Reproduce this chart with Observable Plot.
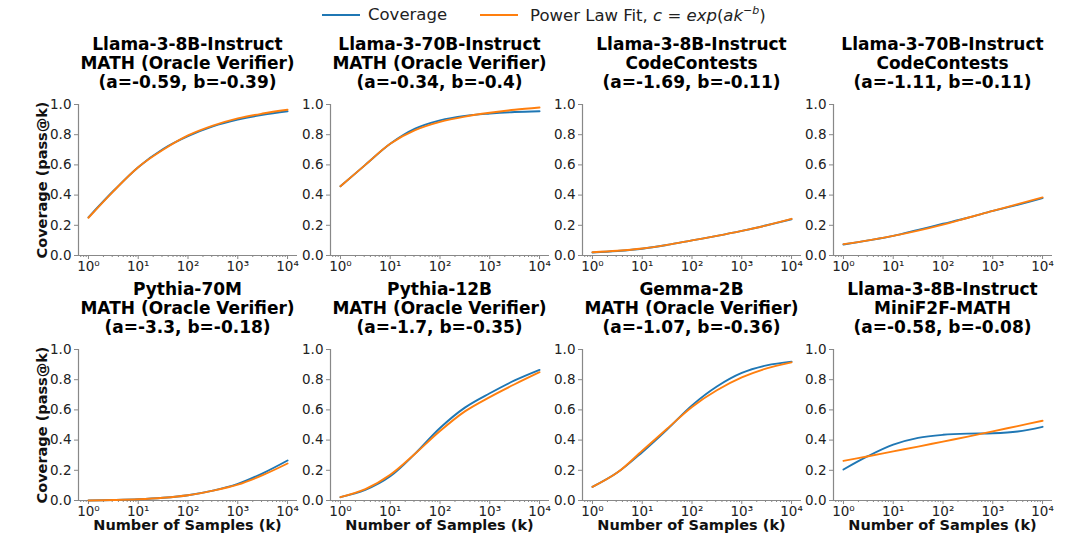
<!DOCTYPE html>
<html><head><meta charset="utf-8">
<script src="https://cdn.jsdelivr.net/npm/d3@7"></script>
<script src="https://cdn.jsdelivr.net/npm/@observablehq/plot@0.6"></script>
<style>
body{margin:0;background:#fff;font-family:"DejaVu Sans",sans-serif;}
#fig{position:relative;width:1080px;height:557px;overflow:hidden;}
.abs{position:absolute;white-space:nowrap;}
.title{font-weight:bold;font-size:17px;line-height:19px;text-align:center;color:#000;}
.ylab{font-weight:bold;font-size:14.5px;color:#111;transform:translate(-50%,-50%) rotate(-90deg);}
.xlab{font-weight:bold;font-size:14.5px;color:#111;transform:translateX(-50%);}
.legend{font-size:16.5px;color:#222;display:flex;align-items:center;}
.legend .sw{display:inline-block;width:38px;height:0;border-top:2px solid;margin-right:8px;}
</style></head>
<body><div id="fig"></div>
<script>
// ---- data ----
const kValues = [1, 3.16, 10, 31.6, 100, 316, 1000, 3162, 10000];
const panelTitles = [
  ["Llama-3-8B-Instruct", "MATH (Oracle Verifier)", "(a=-0.59, b=-0.39)"],
  ["Llama-3-70B-Instruct", "MATH (Oracle Verifier)", "(a=-0.34, b=-0.4)"],
  ["Llama-3-8B-Instruct", "CodeContests", "(a=-1.69, b=-0.11)"],
  ["Llama-3-70B-Instruct", "CodeContests", "(a=-1.11, b=-0.11)"],
  ["Pythia-70M", "MATH (Oracle Verifier)", "(a=-3.3, b=-0.18)"],
  ["Pythia-12B", "MATH (Oracle Verifier)", "(a=-1.7, b=-0.35)"],
  ["Gemma-2B", "MATH (Oracle Verifier)", "(a=-1.07, b=-0.36)"],
  ["Llama-3-8B-Instruct", "MiniF2F-MATH", "(a=-0.58, b=-0.08)"]
];
const coverage1 = [0.253, 0.427, 0.585, 0.705, 0.79, 0.855, 0.90, 0.932, 0.955];
const fit1      = [0.25, 0.425, 0.585, 0.70, 0.795, 0.86, 0.908, 0.94, 0.965];
const coverage2 = [0.458, 0.60, 0.74, 0.84, 0.895, 0.925, 0.94, 0.95, 0.955];
const fit2      = [0.458, 0.60, 0.74, 0.83, 0.885, 0.92, 0.945, 0.965, 0.98];
const coverage3 = [0.02, 0.03, 0.045, 0.07, 0.10, 0.13, 0.163, 0.20, 0.24];
const fit3      = [0.022, 0.031, 0.046, 0.07, 0.10, 0.13, 0.163, 0.20, 0.243];
const coverage4 = [0.073, 0.10, 0.13, 0.17, 0.21, 0.25, 0.295, 0.335, 0.38];
const fit4      = [0.075, 0.10, 0.13, 0.165, 0.205, 0.25, 0.295, 0.34, 0.385];
const coverage5 = [0.0, 0.003, 0.008, 0.018, 0.035, 0.065, 0.11, 0.18, 0.265];
const fit5      = [0.0, 0.003, 0.008, 0.018, 0.035, 0.065, 0.105, 0.168, 0.245];
const coverage6 = [0.022, 0.07, 0.16, 0.31, 0.48, 0.615, 0.71, 0.795, 0.865];
const fit6      = [0.022, 0.075, 0.17, 0.31, 0.46, 0.59, 0.685, 0.77, 0.85];
const coverage7 = [0.09, 0.185, 0.32, 0.47, 0.63, 0.755, 0.845, 0.895, 0.92];
const fit7      = [0.09, 0.185, 0.33, 0.475, 0.62, 0.73, 0.815, 0.875, 0.915];
const coverage8 = [0.205, 0.295, 0.37, 0.415, 0.435, 0.443, 0.445, 0.457, 0.488];
const fit8      = [0.262, 0.293, 0.325, 0.357, 0.39, 0.423, 0.458, 0.493, 0.528];
const coverageSeries = [coverage1, coverage2, coverage3, coverage4, coverage5, coverage6, coverage7, coverage8];
const fitSeries = [fit1, fit2, fit3, fit4, fit5, fit6, fit7, fit8];
const majorTicks = [1, 10, 100, 1000, 10000];
const yTicks = [0, 0.2, 0.4, 0.6, 0.8, 1.0];
const seriesNames = ["Coverage", "Power Law Fit"];
const seriesColors = ["#1f77b4", "#ff7f0e"];

// ---- layout ----
const fig = document.getElementById("fig");
const colLeft = [78, 330, 582, 833];
const rowTop = [104, 349];
const plotW = 219, plotH = 151;
const mL = 45, mR = 12, mT = 8, mB = 22;
const sup = {"0":"⁰","1":"¹","2":"²","3":"³","4":"⁴"};
const minorTicks = [];
for (let e = -1; e <= 4; e++) for (let m = 2; m <= 9; m++) {
  const v = m * Math.pow(10, e);
  if (v >= Math.pow(10, -0.2) && v <= Math.pow(10, 4.2)) minorTicks.push(v);
}

function addDiv(cls, html, css) {
  const d = document.createElement("div");
  d.className = "abs " + cls;
  d.innerHTML = html;
  Object.assign(d.style, css);
  fig.appendChild(d);
  return d;
}

// legend
addDiv("legend",
  `<span class="sw" style="border-color:${seriesColors[0]}"></span><span>${seriesNames[0]}</span>` +
  `<span class="sw" style="border-color:${seriesColors[1]};margin-left:33px"></span><span style="margin-left:4px">${seriesNames[1]}, <i>c</i> = <i>exp</i>(<i>ak</i><sup style="font-size:11px;vertical-align:7px">−<i>b</i></sup>)</span>`,
  {left: "322px", top: "4px"});

for (let i = 0; i < 8; i++) {
  const row = Math.floor(i / 4), col = i % 4;
  const data = [];
  kValues.forEach((k, j) => {
    data.push({k, v: coverageSeries[i][j], s: seriesNames[0]});
  });
  kValues.forEach((k, j) => {
    data.push({k, v: fitSeries[i][j], s: seriesNames[1]});
  });
  const xDom = [Math.pow(10, -0.2), Math.pow(10, 4.2)];
  const chart = Plot.plot({
    width: mL + plotW + mR,
    height: mT + plotH + mB,
    marginLeft: mL, marginRight: mR, marginTop: mT, marginBottom: mB,
    style: {fontFamily: "DejaVu Sans, sans-serif", fontSize: "13.5px", background: "transparent", overflow: "visible"},
    x: {type: "log", domain: xDom, range: [mL, mL + plotW]},
    y: {domain: [0, 1], range: [mT + plotH, mT]},
    color: {domain: seriesNames, range: seriesColors},
    marks: [
      Plot.axisX({ticks: minorTicks, tickSize: 2, tickFormat: () => "", stroke: "#888", label: null}),
      Plot.axisX({ticks: majorTicks, tickSize: 4, tickPadding: 2, stroke: "#888", color: "#222",
        tickFormat: d => "10" + sup[String(Math.round(Math.log10(d)))], fontSize: 13.5, label: null}),
      Plot.axisY({ticks: yTicks, tickSize: 4, tickPadding: 3, stroke: "#888", color: "#222",
        tickFormat: d3.format(".1f"), fontSize: 13.5, label: null}),
      Plot.ruleX([xDom[0]], {stroke: "#888", strokeWidth: 1.2}),
      Plot.ruleY([0], {stroke: "#888", strokeWidth: 1.2}),
      Plot.line(data, {x: "k", y: "v", z: "s", stroke: "s", strokeWidth: 1.9, curve: "catmull-rom"})
    ]
  });
  chart.style.position = "absolute";
  chart.style.left = (colLeft[col] - mL) + "px";
  chart.style.top = (rowTop[row] - mT) + "px";
  fig.appendChild(chart);

  const cx = colLeft[col] + plotW / 2;
  addDiv("title", panelTitles[i].join("<br>"), {left: cx + "px", top: (rowTop[row] - 69) + "px", transform: "translateX(-50%)"});
  if (col === 0) addDiv("ylab", "Coverage (pass@k)", {left: "42px", top: (rowTop[row] + plotH / 2) + "px"});
  if (row === 1) addDiv("xlab", "Number of Samples (k)", {left: cx + "px", top: (rowTop[row] + plotH + 17) + "px"});
}
</script></body></html>
